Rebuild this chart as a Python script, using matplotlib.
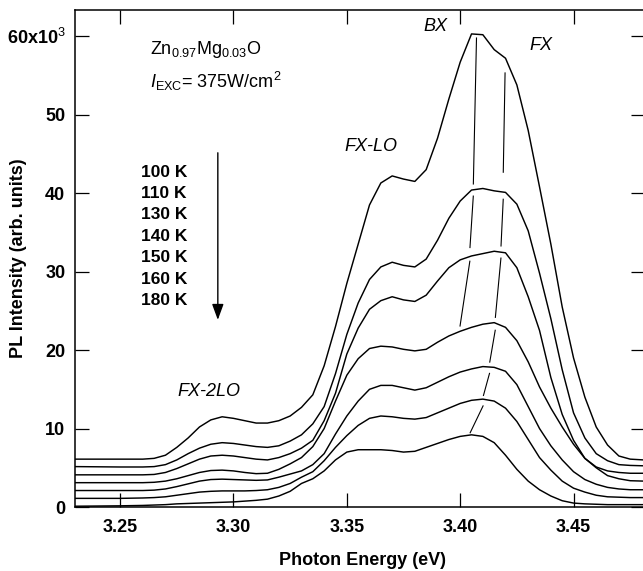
import matplotlib
matplotlib.use("Agg")
import matplotlib.pyplot as plt
import numpy as np

plt.rcParams["font.family"] = ["Liberation Sans", "DejaVu Sans"]
plt.rcParams["mathtext.fontset"] = "custom"
plt.rcParams["mathtext.rm"] = "Liberation Sans"
plt.rcParams["mathtext.it"] = "Liberation Sans:italic"
plt.rcParams["mathtext.bf"] = "Liberation Sans:bold"

# photon energy grid (eV), shared by all spectra
energy = [3.230, 3.250, 3.260, 3.265, 3.270, 3.275, 3.280, 3.285, 3.290, 3.295,
          3.300, 3.305, 3.310, 3.315, 3.320, 3.325, 3.330, 3.335, 3.340, 3.345,
          3.350, 3.355, 3.360, 3.365, 3.370, 3.375, 3.380, 3.385, 3.390, 3.395,
          3.400, 3.405, 3.410, 3.415, 3.420, 3.425, 3.430, 3.435, 3.440, 3.445,
          3.450, 3.455, 3.460, 3.465, 3.470, 3.475, 3.481]

# PL intensity (x10^3, curves offset as in the figure)
pl_100K = [6.1, 6.1, 6.1, 6.2, 6.6, 7.6, 8.8, 10.2, 11.1, 11.5,
           11.3, 11.0, 10.7, 10.7, 11.0, 11.6, 12.7, 14.3, 18.0, 23.0,
           28.5, 33.5, 38.5, 41.3, 42.2, 41.8, 41.5, 43.0, 47.0, 52.0,
           56.7, 60.3, 60.2, 58.3, 57.2, 53.8, 48.0, 40.8, 33.5, 25.5,
           19.0, 14.0, 10.2, 7.9, 6.5, 6.1, 6.0]
pl_110K = [5.15, 5.1, 5.1, 5.15, 5.4, 6.0, 6.8, 7.5, 8.0, 8.2,
           8.1, 7.9, 7.7, 7.6, 7.8, 8.4, 9.2, 10.6, 12.8, 17.0,
           22.0, 26.0, 29.0, 30.6, 31.2, 30.8, 30.6, 31.6, 34.0, 36.8,
           39.0, 40.4, 40.6, 40.3, 40.1, 38.6, 35.2, 29.8, 24.0, 17.5,
           12.0, 8.8, 6.8, 5.9, 5.4, 5.3, 5.25]
pl_130K = [4.1, 4.1, 4.1, 4.15, 4.4, 4.9, 5.5, 6.1, 6.5, 6.6,
           6.5, 6.3, 6.1, 6.0, 6.3, 6.8, 7.5, 8.5, 11.0, 14.5,
           19.5, 22.8, 25.2, 26.3, 26.8, 26.4, 26.2, 27.0, 28.8, 30.5,
           31.5, 32.0, 32.3, 32.6, 32.4, 30.5, 26.8, 22.5, 16.5, 11.8,
           8.5, 6.2, 5.1, 4.6, 4.4, 4.3, 4.3]
pl_140K = [3.1, 3.1, 3.1, 3.15, 3.3, 3.6, 4.0, 4.4, 4.65, 4.7,
           4.6, 4.4, 4.25, 4.3, 4.8, 5.5, 6.3, 7.7, 10.0, 13.5,
           16.8, 18.9, 20.2, 20.5, 20.4, 20.1, 19.9, 20.1, 21.0, 21.8,
           22.4, 22.9, 23.3, 23.5, 22.9, 21.2, 18.5, 15.3, 12.6, 10.2,
           8.0, 6.2, 5.0, 4.0, 3.6, 3.35, 3.3]
pl_150K = [2.1, 2.1, 2.1, 2.15, 2.3, 2.6, 2.95, 3.3, 3.5, 3.55,
           3.5, 3.45, 3.4, 3.45, 3.8, 4.2, 4.6, 5.4, 6.8, 9.3,
           11.6, 13.5, 15.0, 15.5, 15.5, 15.2, 14.9, 15.2, 15.9, 16.6,
           17.2, 17.6, 17.9, 17.8, 17.3, 15.6, 12.8, 10.0, 7.8, 6.0,
           4.5, 3.5, 2.9, 2.5, 2.3, 2.2, 2.2]
pl_160K = [1.1, 1.1, 1.15, 1.2, 1.3, 1.5, 1.7, 1.9, 2.0, 2.05,
           2.05, 2.05, 2.1, 2.2, 2.5, 3.0, 3.8, 4.5, 5.9, 7.6,
           9.1, 10.4, 11.3, 11.6, 11.5, 11.3, 11.2, 11.4, 12.0, 12.6,
           13.2, 13.6, 13.75, 13.5, 12.6, 10.9, 8.6, 6.3, 4.7, 3.3,
           2.4, 1.9, 1.5, 1.3, 1.25, 1.2, 1.2]
pl_180K = [0.1, 0.15, 0.2, 0.25, 0.3, 0.4, 0.45, 0.5, 0.55, 0.6,
           0.65, 0.75, 0.85, 1.0, 1.4, 2.0, 3.0, 3.6, 4.6, 6.0,
           7.0, 7.3, 7.3, 7.3, 7.2, 7.0, 7.1, 7.6, 8.1, 8.6,
           9.0, 9.2, 9.0, 8.2, 6.6, 4.8, 3.3, 2.2, 1.4, 0.8,
           0.5, 0.4, 0.35, 0.3, 0.3, 0.3, 0.3]
spectra = [pl_100K, pl_110K, pl_130K, pl_140K, pl_150K, pl_160K, pl_180K]
temp_labels = ["100 K", "110 K", "130 K", "140 K", "150 K", "160 K", "180 K"]

# peak position guides (energy, level where the guide meets each curve)
bx_energy = [3.4072, 3.4058, 3.4043, 3.3999]
bx_level = [60.7, 40.5, 32.2, 22.4]
fx_energy = [3.4198, 3.4190, 3.4180, 3.4155, 3.4130, 3.4102, 3.4043]
fx_level = [57.1, 40.1, 32.6, 23.4, 17.9, 13.75, 9.2]

x_ticks = [3.25, 3.30, 3.35, 3.40, 3.45]
x_ticklabels = ["3.25", "3.30", "3.35", "3.40", "3.45"]
y_ticks = [0, 10, 20, 30, 40, 50, 60]
y_ticklabels = ["0", "10", "20", "30", "40", "50", r"60x10$^{3}$"]


def draw_guide(ax, xs, ys, gap_top, gap_bot):
    for i in range(len(xs) - 1):
        ax.plot([xs[i], xs[i + 1]], [ys[i] - gap_top[i], ys[i + 1] + gap_bot[i]],
                color="black", lw=0.8, solid_capstyle="butt")


fig = plt.figure(figsize=(6.43, 5.71), dpi=100)
ax = fig.add_axes([75 / 643, 64 / 571, 569.5 / 643, 497 / 571])

for spec in spectra:
    ax.plot(energy, spec, color="black", lw=1.05, solid_joinstyle="round")

draw_guide(ax, bx_energy, bx_level, [0.85, 0.8, 0.8], [0.6, 0.8, 0.6])
draw_guide(ax, fx_energy, fx_level, [1.7, 0.8, 0.8, 0.8, 0.8, 0.8],
           [2.5, 0.6, 0.7, 0.5, 0.4, 0.2])

ax.set_xlim(3.2301, 3.4813)
ax.set_ylim(0, 63.35)
ax.set_xticks(x_ticks)
ax.set_xticklabels(x_ticklabels)
ax.set_yticks(y_ticks)
ax.set_yticklabels(y_ticklabels)
ax.tick_params(direction="in", length=10, width=0.9, top=True, right=True,
               labelsize=13)
ax.tick_params(axis="x", pad=9)
ax.tick_params(axis="y", pad=7)
for lab in ax.get_xticklabels() + ax.get_yticklabels():
    lab.set_fontweight("bold")
for sp in ax.spines.values():
    sp.set_linewidth(1.1)

ax.set_xlabel("Photon Energy (eV)", fontsize=13, fontweight="bold")
ax.set_ylabel("PL Intensity (arb. units)", fontsize=13, fontweight="bold")
ax.xaxis.set_label_coords(0.504, -0.09)
ax.yaxis.set_label_coords(-0.084, 0.5)

ax.text(3.2631, 58.3, r"Zn$_{\rm 0.97}$Mg$_{\rm 0.03}$O", fontsize=13,
        ha="left", va="center")
ax.text(3.2631, 54.2, r"$I_{\rm EXC}$= 375W/cm$^{\rm 2}$", fontsize=13,
        ha="left", va="center")

for i, lab in enumerate(temp_labels):
    ax.text(3.2591, 42.7 - i * 2.73, lab, fontsize=12.5, fontweight="bold",
            ha="left", va="center")
ax.annotate("", xy=(3.2931, 23.85), xytext=(3.2931, 45.15),
            arrowprops=dict(arrowstyle="-|>,head_length=0.6,head_width=0.22",
                            color="black", lw=1.0,
                            mutation_scale=16, shrinkA=0, shrinkB=0))

ax.text(3.3893, 61.2, "BX", fontsize=13, style="italic", ha="center", va="center")
ax.text(3.4356, 58.8, "FX", fontsize=13, style="italic", ha="center", va="center")
ax.text(3.3606, 45.9, "FX-LO", fontsize=13, style="italic", ha="center", va="center")
ax.text(3.2891, 14.67, "FX-2LO", fontsize=13, style="italic", ha="center", va="center")

fig.savefig("out.png", dpi=100)
